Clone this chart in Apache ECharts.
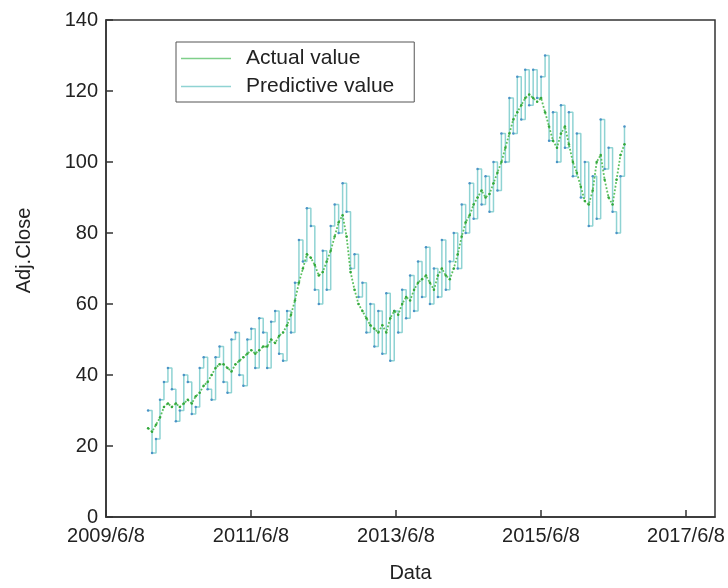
<!DOCTYPE html>
<html>
<head>
<meta charset="utf-8">
<script src="https://cdn.jsdelivr.net/npm/echarts@6/dist/echarts.min.js"></script>
<style>
  html, body { margin: 0; padding: 0; background: #fff; }
  #chart { width: 728px; height: 588px; }
</style>
</head>
<body>
<div id="chart"></div>
<script>
// x positions: days after 2009/6/8, one sample every 20 days
const firstDay = 212
const stepDays = 20
const tickLabels = ['2009/6/8', '2011/6/8', '2013/6/8', '2015/6/8', '2017/6/8']
const twoYears = 730.5 // days between two tick labels

const actualValue = [
  25, 24, 26, 28, 31, 32, 31, 32, 31, 32, 33, 32, 34, 35, 37, 38, 40, 42, 43, 43,
  42, 41, 43, 44, 45, 46, 47, 46, 47, 48, 48, 50, 49, 51, 52, 54, 57, 61, 66, 70,
  74, 73, 71, 68, 69, 72, 75, 79, 83, 85, 79, 69, 64, 60, 58, 56, 54, 53, 52, 54,
  52, 56, 58, 57, 60, 62, 61, 64, 66, 67, 68, 66, 64, 68, 70, 68, 67, 70, 74, 79,
  83, 85, 88, 90, 92, 90, 91, 94, 97, 100, 104, 108, 112, 114, 116, 118, 119, 118, 117, 118,
  114, 110, 106, 104, 108, 110, 105, 100, 97, 93, 89, 88, 92, 100, 102, 95, 90, 88, 95, 102,
  105
]
const predictiveValue = [
  30, 18, 22, 33, 38, 42, 36, 27, 30, 40, 38, 29, 31, 42, 45, 36, 33, 45, 48, 38,
  35, 50, 52, 40, 37, 50, 53, 42, 56, 52, 42, 55, 58, 46, 44, 58, 52, 66, 78, 72,
  87, 82, 64, 60, 75, 64, 82, 88, 80, 94, 86, 70, 74, 62, 66, 52, 60, 48, 58, 46,
  63, 44, 58, 52, 64, 56, 68, 58, 72, 62, 76, 60, 70, 62, 78, 64, 72, 80, 70, 88,
  80, 94, 84, 98, 88, 96, 86, 100, 92, 108, 100, 118, 108, 124, 112, 126, 116, 126, 118, 124,
  130, 106, 114, 100, 116, 104, 114, 96, 108, 90, 100, 82, 96, 84, 112, 98, 104, 86, 80, 96,
  110
]

const toPoints = (vals) => vals.map((v, i) => [firstDay + i * stepDays, v])

const chart = echarts.init(document.getElementById('chart'))
chart.setOption({
  animation: false,
  textStyle: { fontFamily: 'Liberation Sans, Arial, sans-serif' },
  grid: {
    left: 106,
    right: 13,
    top: 20,
    bottom: 70,
    show: true,
    borderColor: '#333',
    borderWidth: 1.5,
    backgroundColor: 'transparent'
  },
  legend: {
    orient: 'vertical',
    left: 176,
    top: 42,
    padding: [6, 20, 5, 5],
    itemGap: 7,
    itemWidth: 50,
    itemHeight: 1.5,
    borderColor: '#555',
    borderWidth: 1,
    textStyle: { fontSize: 21, color: '#222', padding: [0, 0, 0, 10] },
    data: [
      { name: 'Actual value', icon: 'rect', itemStyle: { color: '#7fcf8a' } },
      { name: 'Predictive value', icon: 'rect', itemStyle: { color: '#8fd3d3' } }
    ]
  },
  xAxis: {
    type: 'value',
    min: 0,
    max: 3068,
    interval: twoYears,
    name: 'Data',
    nameLocation: 'middle',
    nameGap: 46,
    nameTextStyle: { fontSize: 20, color: '#222' },
    splitLine: { show: false },
    axisLine: { lineStyle: { color: '#333', width: 1.5 } },
    axisTick: { inside: true, length: 7, lineStyle: { color: '#333', width: 1.5 } },
    axisLabel: {
      fontSize: 20,
      color: '#222',
      margin: 9,
      showMaxLabel: false,
      formatter: (v) => {
        const k = v / twoYears
        return Math.abs(k - Math.round(k)) < 1e-6 ? tickLabels[Math.round(k)] : ''
      }
    }
  },
  yAxis: {
    type: 'value',
    min: 0,
    max: 140,
    interval: 20,
    name: 'Adj.Close',
    nameLocation: 'middle',
    nameGap: 72,
    nameTextStyle: { fontSize: 20, color: '#222', padding: [0, 0, 0, 36] },
    splitLine: { show: false },
    axisLine: { lineStyle: { color: '#333', width: 1.5 } },
    axisTick: { inside: true, length: 7, lineStyle: { color: '#333', width: 1.5 } },
    axisLabel: { fontSize: 20, color: '#222', margin: 8 }
  },
  series: [
    {
      name: 'Predictive value',
      type: 'line',
      step: 'end',
      data: toPoints(predictiveValue),
      symbol: 'circle',
      symbolSize: 2.5,
      itemStyle: { color: '#4a92c6' },
      lineStyle: { color: '#8fd3d3', width: 1.5 },
      z: 2
    },
    {
      name: 'Actual value',
      type: 'line',
      data: toPoints(actualValue),
      symbol: 'circle',
      symbolSize: 2.5,
      itemStyle: { color: '#34a83c' },
      lineStyle: { color: '#5cc060', width: 1.8, type: 'dotted' },
      z: 3
    }
  ]
})
</script>
</body>
</html>
